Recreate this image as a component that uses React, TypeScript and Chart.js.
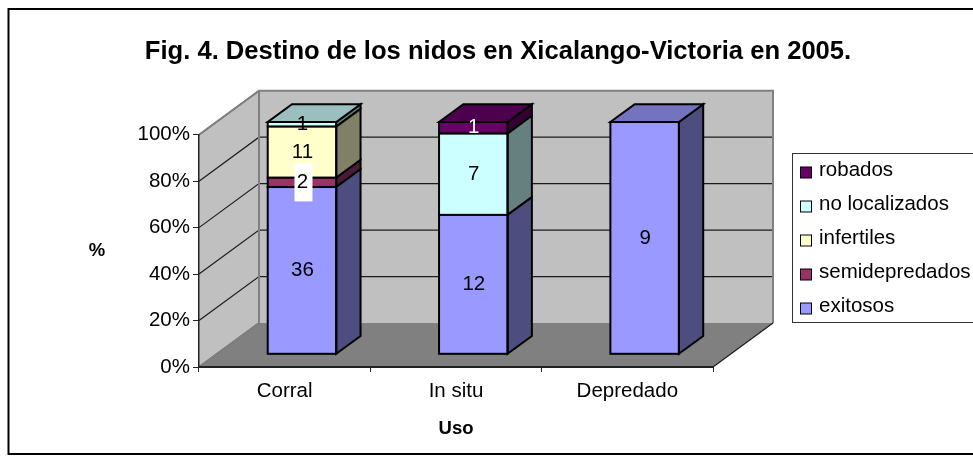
import React, { useEffect, useRef } from "react";
import { Chart, registerables } from "chart.js";

Chart.register(...registerables);

const categories = ["Corral", "In situ", "Depredado"];
const exitosos = [36, 12, 9];
const semidepredados = [2, 0, 0];
const infertiles = [11, 0, 0];
const noLocalizados = [1, 7, 0];
const robados = [0, 1, 0];
const seriesNames = ["exitosos", "semidepredados", "infertiles", "no localizados", "robados"];
const seriesValues = [exitosos, semidepredados, infertiles, noLocalizados, robados];
const seriesFront = ["#9999FF", "#993366", "#FFFFCC", "#CCFFFF", "#660066"];
const seriesTop = ["#7373BF", "#73264D", "#BFBF99", "#99BFBF", "#4D004D"];
const seriesSide = ["#4D4D80", "#4D1A33", "#808066", "#668080", "#330033"];
const labelColors = ["#000", "#000", "#000", "#000", "#fff"];
const totals = categories.map((_, i) => seriesValues.reduce((s, v) => s + v[i], 0));
const percents = seriesValues.map((v) => v.map((x, i) => (x / totals[i]) * 100));

const FONT = "'Liberation Sans', Arial, sans-serif";
const DEPTH_X = 60;
const DEPTH_Y = 44;
const BAR_FRONT = 0.2885;
const BAR_DEPTH = 0.405;

const poly = (ctx: CanvasRenderingContext2D, pts: number[][]) => {
  ctx.beginPath();
  pts.forEach((p, i) => (i ? ctx.lineTo(p[0], p[1]) : ctx.moveTo(p[0], p[1])));
  ctx.closePath();
};

const shiftX = DEPTH_X * BAR_FRONT;
const shiftY = DEPTH_Y * BAR_FRONT;
const sideX = DEPTH_X * BAR_DEPTH;
const sideY = DEPTH_Y * BAR_DEPTH;

const scene = {
  id: "scene",
  afterLayout(chart: any) {
    chart.titleBlock.left = 23;
    chart.titleBlock.right = 973;
  },
  beforeDraw(chart: any) {
    const { ctx, width, height, chartArea: a, scales } = chart;
    ctx.save();
    ctx.fillStyle = "#fff";
    ctx.fillRect(0, 0, width, height);
    ctx.strokeStyle = "#000";
    ctx.lineWidth = 2;
    ctx.strokeRect(8.5, 9, width + 20, 445);

    const L = a.left, R = a.right, T = a.top, B = a.bottom;
    // walls
    ctx.fillStyle = "#C0C0C0";
    poly(ctx, [[L, B], [L, T], [L + DEPTH_X, T - DEPTH_Y], [L + DEPTH_X, B - DEPTH_Y]]);
    ctx.fill();
    poly(ctx, [[L + DEPTH_X, T - DEPTH_Y], [R + DEPTH_X, T - DEPTH_Y], [R + DEPTH_X, B - DEPTH_Y], [L + DEPTH_X, B - DEPTH_Y]]);
    ctx.fill();
    // floor
    ctx.fillStyle = "#808080";
    poly(ctx, [[L, B], [R, B], [R + DEPTH_X, B - DEPTH_Y], [L + DEPTH_X, B - DEPTH_Y]]);
    ctx.fill();
    // gridlines
    ctx.strokeStyle = "#1c1c1c";
    ctx.lineWidth = 1.2;
    for (const t of scales.y.ticks) {
      const y = scales.y.getPixelForValue(t.value);
      ctx.beginPath();
      ctx.moveTo(L, y);
      ctx.lineTo(L + DEPTH_X, y - DEPTH_Y);
      if (t.value > 0 && t.value < 100) ctx.lineTo(R + DEPTH_X, y - DEPTH_Y);
      ctx.stroke();
    }
    // wall outlines
    ctx.strokeStyle = "#808080";
    ctx.lineWidth = 2;
    ctx.beginPath();
    ctx.moveTo(L, T);
    ctx.lineTo(L + DEPTH_X, T - DEPTH_Y);
    ctx.lineTo(R + DEPTH_X, T - DEPTH_Y);
    ctx.lineTo(R + DEPTH_X, B - DEPTH_Y);
    ctx.moveTo(L + DEPTH_X, T - DEPTH_Y);
    ctx.lineTo(L + DEPTH_X, B - DEPTH_Y);
    ctx.lineTo(L, B);
    ctx.stroke();
    ctx.strokeStyle = "#1c1c1c";
    ctx.lineWidth = 1.2;
    ctx.beginPath();
    ctx.moveTo(R, B);
    ctx.lineTo(R + DEPTH_X, B - DEPTH_Y);
    ctx.stroke();
    // unrotated y-axis title
    ctx.fillStyle = "#000";
    ctx.font = `bold 18.5px ${FONT}`;
    ctx.textAlign = "center";
    ctx.textBaseline = "middle";
    ctx.fillText("%", 97, (T + B) / 2);
    ctx.restore();
  },
  beforeDatasetDraw(chart: any) {
    chart.ctx.save();
    chart.ctx.translate(shiftX, shiftY * -1);
  },
  afterDatasetDraw(chart: any, args: any) {
    const ctx = chart.ctx;
    const s = args.index;
    ctx.strokeStyle = "#000";
    ctx.lineWidth = 2;
    ctx.lineJoin = "miter";
    args.meta.data.forEach((bar: any, i: number) => {
      if (!seriesValues[s][i]) return;
      const l = bar.x - bar.width / 2;
      const r = bar.x + bar.width / 2;
      ctx.fillStyle = seriesSide[s];
      poly(ctx, [[r, bar.base], [r + sideX, bar.base - sideY], [r + sideX, bar.y - sideY], [r, bar.y]]);
      ctx.fill();
      ctx.stroke();
      const isTop = seriesValues.slice(s + 1).every((v) => !v[i]);
      if (isTop) {
        ctx.fillStyle = seriesTop[s];
        poly(ctx, [[l, bar.y], [r, bar.y], [r + sideX, bar.y - sideY], [l + sideX, bar.y - sideY]]);
        ctx.fill();
        ctx.stroke();
      }
      ctx.strokeRect(l, bar.y, bar.width, bar.base - bar.y);
    });
    ctx.restore();
  },
  afterDatasetsDraw(chart: any) {
    const ctx = chart.ctx;
    ctx.save();
    ctx.translate(shiftX, -shiftY);
    ctx.font = `20.5px ${FONT}`;
    ctx.textAlign = "center";
    ctx.textBaseline = "middle";
    seriesValues.forEach((vals, s) => {
      const meta = chart.getDatasetMeta(s);
      vals.forEach((v, i) => {
        if (!v) return;
        const bar: any = meta.data[i];
        const y = (bar.y + bar.base) / 2;
        if (seriesNames[s] === "semidepredados") {
          ctx.fillStyle = "#fff";
          ctx.fillRect(bar.x - 7.5, y - 19, 18, 38);
        }
        ctx.fillStyle = labelColors[s];
        ctx.fillText(String(v), bar.x + 0.5, y);
      });
    });
    ctx.restore();
  },
  afterDraw(chart: any) {
    const ctx = chart.ctx;
    ctx.save();
    ctx.fillStyle = "#fff";
    ctx.strokeStyle = "#333";
    ctx.lineWidth = 1;
    ctx.fillRect(792.5, 153.5, 200, 169);
    ctx.strokeRect(792.5, 153.5, 200, 169);
    ctx.font = `20.5px ${FONT}`;
    ctx.textAlign = "left";
    ctx.textBaseline = "middle";
    const n = seriesNames.length;
    for (let row = 0; row < n; row++) {
      const s = n - 1 - row;
      const cy = 170.5 + row * 34;
      ctx.fillStyle = seriesFront[s];
      ctx.strokeStyle = "#000";
      ctx.lineWidth = 1;
      ctx.fillRect(800.5, cy - 3.5, 11, 11);
      ctx.strokeRect(800.5, cy - 3.5, 11, 11);
      ctx.fillStyle = "#000";
      ctx.fillText(seriesNames[s], 819, cy);
    }
    ctx.restore();
  },
};

export default function App() {
  const ref = useRef<HTMLCanvasElement>(null);
  useEffect(() => {
    const chart = new Chart(ref.current!, {
      type: "bar",
      data: {
        labels: categories,
        datasets: percents.map((data, s) => ({
          label: seriesNames[s],
          data,
          backgroundColor: seriesFront[s],
          borderWidth: 0,
          categoryPercentage: 1,
          barPercentage: 0.4,
          clip: false,
        })),
      },
      options: {
        responsive: false,
        animation: false,
        events: [],
        layout: { padding: { left: 0, right: 260, top: 0, bottom: 0 } },
        plugins: {
          legend: { display: false },
          tooltip: { enabled: false },
          title: {
            display: true,
            text: "Fig. 4. Destino de los nidos en Xicalango-Victoria en 2005.",
            color: "#000",
            font: { family: FONT, size: 25.6, weight: "bold", lineHeight: 1 },
            padding: { top: 39, bottom: 70.1 },
          },
        },
        scales: {
          x: {
            stacked: true,
            afterFit: (s: any) => {
              s.height = 97;
            },
            grid: { offset: true, drawOnChartArea: false, color: "#222", tickLength: 5, lineWidth: 1 },
            border: { color: "#222", width: 2 },
            ticks: { color: "#000", font: { family: FONT, size: 20.5 }, padding: 7, maxRotation: 0 },
            title: {
              display: true,
              text: "Uso",
              color: "#000",
              font: { family: FONT, size: 18.5, weight: "bold" },
              padding: { bottom: 24, top: 0 },
            },
          },
          y: {
            stacked: true,
            min: 0,
            max: 100,
            afterFit: (s: any) => {
              s.width = 199;
            },
            grid: { drawOnChartArea: false, color: "#222", tickLength: 6, lineWidth: 1 },
            border: { color: "#222", width: 1.5 },
            ticks: {
              stepSize: 20,
              color: "#000",
              font: { family: FONT, size: 20.5 },
              padding: 3,
              callback: (v: any) => `${v}%`,
            },
          },
        },
      },
      plugins: [scene],
    } as any);
    return () => chart.destroy();
  }, []);
  return (
    <canvas
      ref={ref}
      width={973}
      height={464}
      style={{ position: "fixed", left: 0, top: 0, display: "block" }}
    />
  );
}
